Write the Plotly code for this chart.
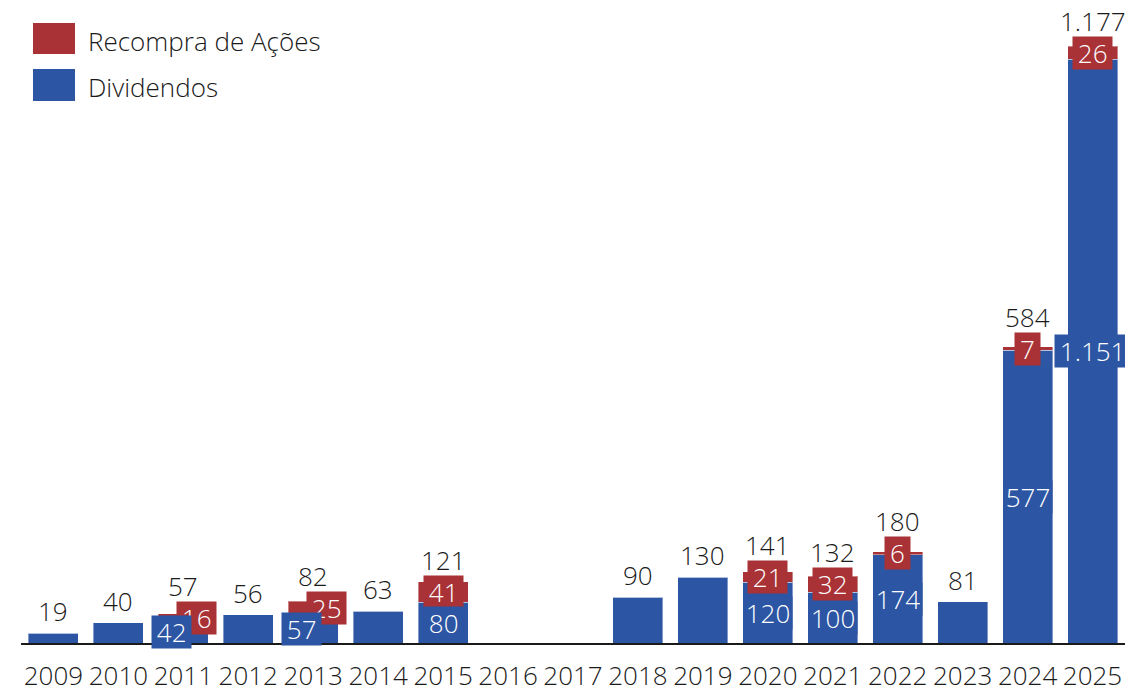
import plotly.graph_objects as go

years = [str(y) for y in range(2009, 2026)]
dividendos = [19, 40, 42, 56, 57, 63, 80, 0, 0, 90, 130, 120, 100, 174, 81, 577, 1151]
recompra = [0, 0, 16, 0, 25, 0, 41, 0, 0, 0, 0, 21, 32, 6, 0, 7, 26]
totais = [19, 40, 57, 56, 82, 63, 121, 0, 0, 90, 130, 141, 132, 180, 81, 584, 1177]
# horizontal nudges (px) for overlapping inner labels
shift_div = [0, 0, -12, 0, -12, 0, 0, 0, 0, 0, 0, 0, 0, 0, 0, 0, 0]
shift_rec = [0, 0, 13, 0, 13, 0, 0, 0, 0, 0, 0, 0, 0, 0, 0, 0, 0]

BLUE = "#2C55A4"
RED = "#A83236"
TXT = "#1a1a1a"
FONT = "Open Sans"
FS = 26

W, H = 1125, 688
ML, MR, MT, MB = 21, 0, 0, 45


def fmt(v):
    return f"{v:,}".replace(",", ".")


def box_w(s):
    tw = sum(6.5 if c == "." else 14.7 for c in s)
    w = tw + 6
    if len(s) == 3:
        w = min(w, 44)
    return w


fig = go.Figure()
fig.add_trace(go.Bar(x=years, y=dividendos, name="Dividendos", marker=dict(color=BLUE, line=dict(color="rgba(255,255,255,0.4)", width=1))))
fig.add_trace(go.Bar(x=years, y=recompra, name="Recompra de Ações", marker=dict(color=RED, line=dict(color="rgba(255,255,255,0.4)", width=1))))

ann = []
lab_font = dict(family=FONT, size=FS, color="white", weight=300)
tot_font = dict(family=FONT, size=FS, color=TXT, weight=300)
for i, yr in enumerate(years):
    d, r, t = dividendos[i], recompra[i], totais[i]
    if t == 0:
        continue
    if r > 0:
        ann.append(dict(x=i, y=d + r / 2, text=fmt(r), showarrow=False, xshift=shift_rec[i],
                        font=lab_font, bgcolor=RED, borderpad=2, width=box_w(fmt(r)), height=28))
        ann.append(dict(x=i, y=d / 2, text=fmt(d), showarrow=False, xshift=shift_div[i],
                        font=lab_font, bgcolor=BLUE, borderpad=2, width=box_w(fmt(d)), height=28))
        ann.append(dict(x=i, y=d + r / 2, text=fmt(t), showarrow=False, yshift=32, font=tot_font))
    else:
        ann.append(dict(x=i, y=t, text=fmt(t), showarrow=False, yshift=22, font=tot_font))

pw = W - ML - MR
ph = H - MT - MB


def px_x(p):
    return (p - ML) / pw


def px_y(q):
    return (H - MB - q) / ph


shapes = [
    dict(type="rect", xref="paper", yref="paper", x0=px_x(33), x1=px_x(75), y0=px_y(54), y1=px_y(23), fillcolor=RED, line=dict(width=0)),
    dict(type="rect", xref="paper", yref="paper", x0=px_x(33), x1=px_x(75), y0=px_y(101), y1=px_y(69), fillcolor=BLUE, line=dict(width=0)),
]
ann.append(dict(xref="paper", yref="paper", x=px_x(86), y=px_y(41), xanchor="left", yanchor="middle", showarrow=False,
                text="Recompra de Ações", font=tot_font))
ann.append(dict(xref="paper", yref="paper", x=px_x(86), y=px_y(87), xanchor="left", yanchor="middle", showarrow=False,
                text="Dividendos", font=tot_font))

fig.update_layout(
    barmode="stack",
    bargap=0.23,
    width=W, height=H,
    margin=dict(l=ML, r=MR, t=MT, b=MB, autoexpand=False),
    plot_bgcolor="white", paper_bgcolor="white",
    showlegend=False,
    annotations=ann,
    shapes=shapes,
    font=dict(family=FONT, size=FS, color=TXT, weight=300),
)
fig.update_xaxes(type="category", range=[-0.5, len(years) - 0.5], showline=True, linecolor="#1a1a1a", linewidth=2,
                 showgrid=False, ticks="", ticklabelstandoff=9, automargin=False,
                 tickfont=dict(family=FONT, size=FS, color=TXT, weight=300))
fig.update_yaxes(visible=False, range=[0, 1268], showgrid=False, zeroline=False, automargin=False)

fig.write_html("out.html", config={"displayModeBar": False},
               post_script="document.body.style.margin='0';")
